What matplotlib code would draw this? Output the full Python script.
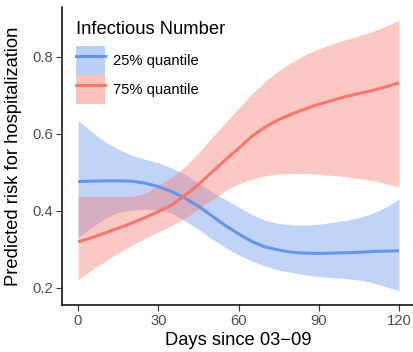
import numpy as np
import matplotlib
matplotlib.use("Agg")
import matplotlib.pyplot as plt
from matplotlib.patches import Patch
from matplotlib.lines import Line2D

plt.rcParams['font.family'] = ['Liberation Sans', 'DejaVu Sans']

# days since 03-09
days = [0, 5, 10, 15, 20, 25, 30, 35, 40, 45, 50, 55, 60,
        65, 70, 75, 80, 85, 90, 95, 100, 105, 110, 115, 120]

# 25% quantile of infectious number
q25_fit = [0.476, 0.477, 0.478, 0.478, 0.477, 0.472, 0.463, 0.450, 0.433, 0.412, 0.387, 0.362, 0.340,
           0.320, 0.306, 0.298, 0.292, 0.290, 0.289, 0.290, 0.291, 0.292, 0.294, 0.295, 0.296]
q25_hi = [0.635, 0.606, 0.580, 0.560, 0.545, 0.534, 0.525, 0.511, 0.495, 0.472, 0.450, 0.430, 0.410,
          0.390, 0.375, 0.367, 0.363, 0.363, 0.365, 0.370, 0.375, 0.382, 0.393, 0.409, 0.430]
q25_lo = [0.330, 0.356, 0.380, 0.396, 0.402, 0.404, 0.402, 0.394, 0.374, 0.352, 0.327, 0.305, 0.285,
          0.270, 0.256, 0.246, 0.239, 0.233, 0.229, 0.226, 0.224, 0.220, 0.213, 0.203, 0.192]

# 75% quantile of infectious number
q75_fit = [0.319, 0.330, 0.342, 0.355, 0.368, 0.382, 0.398, 0.415, 0.440, 0.468, 0.500, 0.532, 0.562,
           0.594, 0.618, 0.637, 0.652, 0.665, 0.677, 0.687, 0.697, 0.705, 0.713, 0.722, 0.733]
q75_hi = [0.437, 0.437, 0.437, 0.437, 0.438, 0.445, 0.466, 0.488, 0.515, 0.550, 0.590, 0.628, 0.667,
          0.704, 0.737, 0.764, 0.787, 0.806, 0.821, 0.834, 0.845, 0.855, 0.866, 0.880, 0.896]
q75_lo = [0.221, 0.245, 0.268, 0.290, 0.310, 0.328, 0.345, 0.362, 0.380, 0.405, 0.428, 0.452, 0.470,
          0.482, 0.491, 0.496, 0.497, 0.497, 0.495, 0.492, 0.489, 0.484, 0.479, 0.471, 0.462]

labels = ['25% quantile', '75% quantile']
blue = '#6495ED'
red = '#F8766D'

fig = plt.figure(figsize=(4.13, 3.52), dpi=100)
W, H = 413, 352
ax = fig.add_axes([62 / W, 1 - 305 / H, 353 / W, 298 / H])

ax.fill_between(days, q25_lo, q25_hi, color=blue, alpha=0.4, linewidth=0)
ax.fill_between(days, q75_lo, q75_hi, color=red, alpha=0.4, linewidth=0)
ax.plot(days, q25_fit, color=blue, lw=2.2, solid_capstyle='butt')
ax.plot(days, q75_fit, color=red, lw=2.2, solid_capstyle='butt')

ax.set_xlim(-6, 126)
ax.set_ylim(0.155, 0.93)
ax.set_xticks([0, 30, 60, 90, 120])
ax.set_yticks([0.2, 0.4, 0.6, 0.8])
ax.set_yticklabels(['0.2', '0.4', '0.6', '0.8'])

for s in ['top', 'right']:
    ax.spines[s].set_visible(False)
for s in ['left', 'bottom']:
    ax.spines[s].set_linewidth(1.1)
    ax.spines[s].set_color('black')
ax.tick_params(axis='both', length=4, width=0.8, color='#333333',
               labelsize=10.6, labelcolor='#4D4D4D', pad=2.5)

ax.set_xlabel('Days since 03\u221209', fontsize=13.2, labelpad=3)
ax.set_ylabel('Predicted risk for hospitalization', fontsize=13.2, labelpad=7)

handles = [(Patch(facecolor=blue, alpha=0.45, linewidth=0), Line2D([], [], color=blue, lw=2.2)),
           (Patch(facecolor=red, alpha=0.45, linewidth=0), Line2D([], [], color=red, lw=2.2))]
leg = ax.legend(handles, labels, loc='upper left',
                bbox_to_anchor=(76 / W, 1 - 21 / H), bbox_transform=fig.transFigure,
                title='Infectious Number', title_fontsize=13.2, fontsize=10.6,
                frameon=False, handlelength=1.97, handleheight=2.66,
                labelspacing=0, handletextpad=0.55, borderpad=0, borderaxespad=0,
                alignment='left')
leg._legend_box.sep = 6

fig.savefig('out.png', dpi=100, facecolor='white')
